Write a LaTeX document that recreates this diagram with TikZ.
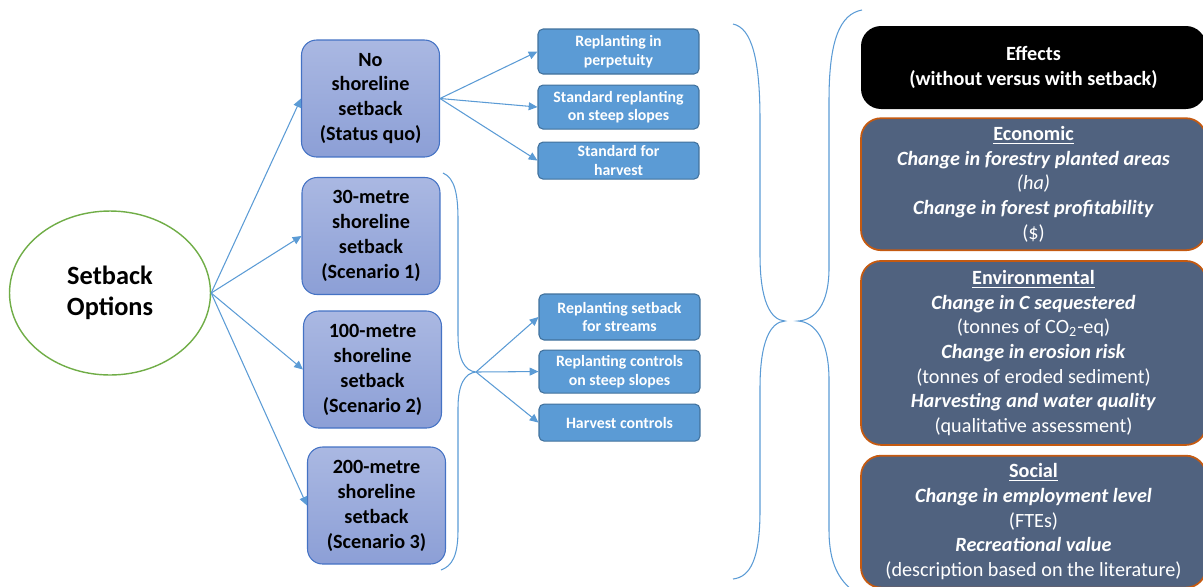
\documentclass[tikz,border=0pt]{standalone}
\usepackage{fontspec}
\setmainfont{Carlito}
\usepackage{xcolor}
\usetikzlibrary{arrows.meta,shapes.geometric,positioning}
\definecolor{link-blue}{HTML}{5B9BD5}
\definecolor{leaf-green}{HTML}{70AD47}
\definecolor{option-border}{HTML}{4472C4}
\definecolor{option-top}{HTML}{AAB8E2}
\definecolor{option-bottom}{HTML}{8C9FD6}
\definecolor{action-border}{HTML}{41719C}
\definecolor{effect-fill}{HTML}{50627F}
\definecolor{effect-border}{HTML}{C55A11}
\tikzset{
    options-ellipse/.style = {draw=leaf-green, line width=0.8pt, ellipse, minimum width=4.02cm, minimum height=3.28cm, align=center, font=\fontsize{15}{18}\selectfont\bfseries},
    option-box/.style = {draw=option-border, top color=option-top, bottom color=option-bottom, line width=0.6pt, rounded corners=0.3cm, minimum width=2.76cm, minimum height=2.34cm, align=center, font=\fontsize{11.5}{14.2}\selectfont\bfseries},
    action-box/.style = {draw=action-border, fill=link-blue, line width=0.6pt, rounded corners=0.1cm, minimum width=3.22cm, inner sep=1pt, align=center, text=white, font=\fontsize{9}{10.5}\selectfont\bfseries},
    effect-title/.style = {fill=black, rounded corners=0.4cm, minimum width=6.9cm, minimum height=1.66cm, text=white, align=center, font=\fontsize{11.5}{14.5}\selectfont\bfseries},
    effect-box/.style = {draw=effect-border, fill=effect-fill, line width=1pt, rounded corners=0.4cm, minimum width=6.9cm, text=white, align=center, font=\fontsize{11.5}{14}\selectfont},
    link/.style = {draw=link-blue, line width=0.6pt, -{Triangle[length=5pt,width=4.5pt]}},
    brace-line/.style = {draw=link-blue, line width=0.6pt},
}

\begin{document}
\begin{tikzpicture}[x=0.02cm, y=-0.02cm]
\useasboundingbox (0,0) rectangle (1203,586);

\node[options-ellipse] (options) at (110,293) {Setback\\Options};

\node[option-box] (noset) at (370.5,98.5) {No\\shoreline\\setback\\(Status quo)};
\node[option-box] (set30) at (371,236) {30-metre\\shoreline\\setback\\(Scenario 1)};
\node[option-box] (set100) at (372.5,369.5) {100-metre\\shoreline\\setback\\(Scenario 2)};
\node[option-box] (set200) at (376.5,505.5) {200-metre\\shoreline\\setback\\(Scenario 3)};

\node[action-box, minimum height=0.9cm] (perp) at (618.5,51.5) {Replanting in\\perpetuity};
\node[action-box, minimum height=0.88cm, below=0.2cm of perp] (stdsteep) {Standard replanting\\on steep slopes};
\node[action-box, minimum height=0.74cm, below=0.24cm of stdsteep] (stdharv) {Standard for\\harvest};
\node[action-box, minimum height=0.92cm] (streams) at (619.5,317) {Replanting setback\\for streams};
\node[action-box, minimum height=0.86cm, below=0.18cm of streams] (ctrlsteep) {Replanting controls\\on steep slopes};
\node[action-box, minimum height=0.74cm, below=0.2cm of ctrlsteep] (harvctrl) {Harvest controls};

\node[effect-title] (effects) at (1033.5,67.5) {Effects\\(without versus with setback)};
\node[effect-box, minimum height=2.64cm, below=0.16cm of effects] (econ) {\textbf{\underline{Economic}}\\\textbf{\textit{Change in forestry planted areas}}\\\textit{(ha)}\\\textbf{\textit{Change in forest profitability}}\\(\$)};
\node[effect-box, minimum height=3.68cm, below=0.18cm of econ] (env) {\textbf{\underline{Environmental}}\\\textbf{\textit{Change in C sequestered}}\\(tonnes of CO\textsubscript{2}-eq)\\\textbf{\textit{Change in erosion risk}}\\(tonnes of eroded sediment)\\\textbf{\textit{Harvesting and water quality}}\\(qualitative assessment)};
\node[effect-box, minimum height=2.64cm, below=0.18cm of env] (social) {\textbf{\underline{Social}}\\\textbf{\textit{Change in employment level}}\\(FTEs)\\\textbf{\textit{Recreational value}}\\(description based on the literature)};

\coordinate (bracetip) at (476,372);
\draw[brace-line] (443,173) .. controls (455,178) and (458,195) .. (458,220) -- (458,335)
    .. controls (458,360) and (465,371) .. (bracetip)
    .. controls (465,373) and (458,384) .. (458,408) -- (458,530)
    .. controls (458,556) and (452,566) .. (441,570);
\draw[brace-line] (733,24) .. controls (752,28) and (760,60) .. (760,120) -- (760,255)
    .. controls (760,300) and (770,320) .. (785,321)
    .. controls (770,322) and (760,342) .. (760,388) -- (760,510)
    .. controls (760,560) and (750,577) .. (733,579);
\draw[brace-line] (862,10) .. controls (840,14) and (829,40) .. (829,100) -- (829,268)
    .. controls (829,305) and (815,320) .. (798,321)
    .. controls (815,322) and (829,340) .. (829,380) -- (829,530)
    .. controls (829,565) and (840,580) .. (852,590);

\foreach \opt in {noset,set30,set100,set200}
    \draw[link] (options.east) -- (\opt.west);
\foreach \act in {perp,stdsteep,stdharv}
    \draw[link] (noset.east) -- (\act.west);
\foreach \act in {streams,ctrlsteep,harvctrl}
    \draw[link] (bracetip) -- (\act.west);
\end{tikzpicture}
\end{document}
